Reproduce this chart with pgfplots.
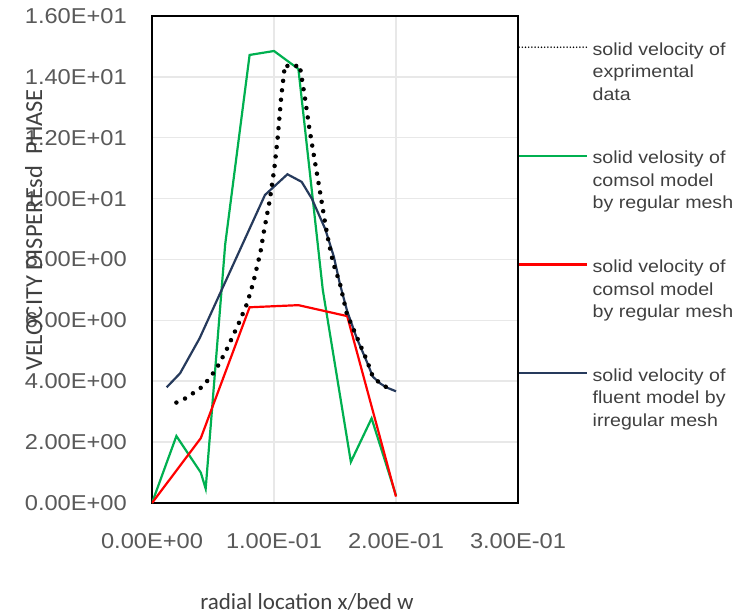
\documentclass[border=0pt]{standalone}
\usepackage{fontspec}
\setmainfont{Liberation Sans}
\newfontfamily\tickfont[FakeStretch=1.1]{Liberation Sans}
\newfontfamily\legfont[FakeStretch=1.12]{Liberation Sans}
\newfontfamily\labfont{Carlito}
\usepackage{pgfplots}
\pgfplotsset{compat=1.18}
\definecolor{cgreen}{RGB}{0,176,80}
\definecolor{cred}{RGB}{255,0,0}
\definecolor{cblue}{RGB}{38,58,92}
\definecolor{ctick}{RGB}{89,89,89}
\definecolor{ctext}{RGB}{64,64,64}
\definecolor{cgrid}{RGB}{232,232,232}

\pgfplotstableread{
x y
0     0
0.02  2.2
0.04  1.0
0.044 0.47
0.06  8.5
0.08  14.72
0.1   14.85
0.12  14.26
0.14  7.0
0.163 1.35
0.18  2.78
0.2   0.25
}\greendata

\pgfplotstableread{
x y
0    0
0.04 2.13
0.08 6.43
0.12 6.5
0.16 6.14
0.2  0.21
}\reddata

\pgfplotstableread{
x y
0.012  3.8
0.023  4.26
0.039  5.41
0.0926 10.12
0.111  10.8
0.1227 10.55
0.131  10.0
0.142  9.0
0.149  8.1
0.154  7.2
0.16   6.3
0.168  5.4
0.176  4.65
0.181  4.15
0.187  3.93
0.192  3.8
0.2    3.67
}\bluedata

\pgfplotstableread{
x y
0.02   3.3
0.028  3.45
0.042  3.84
0.0525 4.39
0.0607 5.0
0.0713 5.92
0.078  6.56
0.083  7.24
0.089  8.26
0.0918 8.94
0.0965 9.94
0.1003 11.0
0.103  12.0
0.106  13.37
0.109  14.4
0.114  14.3
0.121  14.4
0.1254 13.3
0.129  12.3
0.1333 11.27
0.1377 10.23
0.1418 9.22
0.145  8.53
0.1486 7.87
0.154  7.22
0.1596 6.23
0.1678 5.46
0.176  4.7
0.181  4.15
0.187  3.93
0.1924 3.8
}\expdata

\begin{document}
\begin{tikzpicture}
\useasboundingbox (-152pt,-112pt) rectangle (581pt,503pt);
\begin{axis}[
  at={(0pt,0pt)}, anchor=south west,
  scale only axis,
  width=366pt, height=487pt,
  xmin=0, xmax=0.3, ymin=0, ymax=16,
  xtick={0,0.1,0.2,0.3},
  xticklabels={0.00E+00,1.00E-01,2.00E-01,3.00E-01},
  ytick={0,2,4,6,8,10,12,14,16},
  yticklabels={0.00E+00,2.00E+00,4.00E+00,6.00E+00,8.00E+00,1.00E+01,1.20E+01,1.40E+01,1.60E+01},
  major tick length=0pt,
  grid=major,
  major grid style={draw=cgrid, line width=1.5pt},
  axis line style={draw=black, line width=1.6pt},
  xticklabel style={font=\tickfont\fontsize{21.5}{25}\selectfont, text=ctick, anchor=north, inner sep=0pt, yshift=-30pt},
  yticklabel style={font=\tickfont\fontsize{21.5}{25}\selectfont, text=ctick, anchor=east, inner sep=0pt, xshift=-25pt},
  xlabel={radial location x/bed w},
  ylabel={VELOCITY DISPEREsd\ \ PHASE},
  every axis x label/.style={at={(axis description cs:0.4235,-0.2177)}, anchor=base, font=\labfont\fontsize{23}{27}\selectfont, text=ctext},
  every axis y label/.style={at={(axis description cs:-0.3005,0.5606)}, anchor=base, rotate=90, font=\labfont\fontsize{24.5}{28}\selectfont, text=ctext},
  legend cell align=left,
  legend style={at={(axis description cs:1,1)}, anchor=north west, yshift=-26.5pt,
    draw=none, fill=none, inner sep=0pt, outer sep=0pt,
    row sep=49.5pt, column sep=4.5pt,
    font=\legfont\fontsize{17.5}{22.5}\selectfont, text=ctext,
    cells={anchor=base west},
    nodes={inner sep=0pt, align=left}},
  legend image code/.code={\draw[#1] (0pt,53pt) -- (68pt,53pt);},
]
\addplot[cgreen, line width=2.2pt, forget plot] table[x=x,y=y] {\greendata};
\addplot[cred, line width=2.2pt, forget plot] table[x=x,y=y] {\reddata};
\addplot[cblue, line width=2.2pt, forget plot] table[x=x,y=y] {\bluedata};
\addplot[black, line width=4.5pt, line cap=round, dash pattern=on 0pt off 9.5pt, forget plot] table[x=x,y=y] {\expdata};

\addlegendimage{black, line width=1.7pt, line cap=round, dash pattern=on 0pt off 3.2pt}
\addlegendentry{solid velocity of\\exprimental\\data\vphantom{g}}
\addlegendimage{cgreen, line width=2.2pt}
\addlegendentry{solid velosity of\\comsol model\\by regular mesh}
\addlegendimage{cred, line width=2.2pt}
\addlegendentry{solid velocity of\\comsol model\\by regular mesh}
\addlegendimage{cblue, line width=2.2pt}
\addlegendentry{solid velocity of\\fluent model by\\irregular mesh}
\end{axis}
\end{tikzpicture}
\end{document}
